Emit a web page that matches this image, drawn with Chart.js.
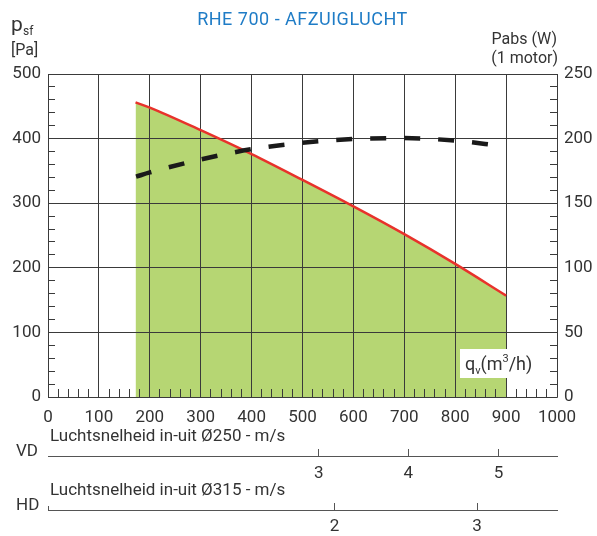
<!DOCTYPE html>
<html>
<head>
<meta charset="utf-8">
<script src="https://cdn.jsdelivr.net/npm/chart.js@4.4.1/dist/chart.umd.min.js"></script>
<style>
  html, body { margin: 0; padding: 0; background: #fff; }
  canvas { display: block; }
</style>
</head>
<body>
<canvas id="chart" width="597" height="536"></canvas>
<script>
// pressure curve (left axis, Pa)
const flowP = [172, 200, 300, 400, 500, 600, 700, 800, 900];
const pressure = [456, 448, 413, 376, 336, 295, 252, 206, 157];
// absorbed power curve (right axis, W)
const flowW = [173, 200, 300, 400, 500, 600, 700, 800, 888];
const power = [170.5, 173.8, 183.8, 191.8, 196.8, 199.7, 200.4, 198.4, 194.5];
// air speed scales under the chart (m/s at the matching m3/h)
const vdTicks = [3, 4, 5];
const vdFlow = [532, 708, 885];
const hdTicks = [2, 3];
const hdFlow = [563, 843];

const FONT = 'Roboto, "DejaVu Sans", sans-serif';
const TXT = '#333';
const GRID = '#3a3a3a';

const px = v => Math.floor(v) + 0.5;

// grid, frame and minor ticks go over the green fill but under the lines
const gridPlugin = {
  id: 'gridOver',
  beforeDatasetDraw(chart, args) {
    if (args.index !== 0) return;
    const {ctx, chartArea: {left, right, top, bottom}, scales: {x, y, y1}} = chart;
    ctx.save();
    ctx.strokeStyle = GRID;
    ctx.lineWidth = 1;
    ctx.beginPath();
    x.ticks.forEach(t => {
      const p = px(x.getPixelForValue(t.value));
      ctx.moveTo(p, top); ctx.lineTo(p, bottom);
    });
    y.ticks.forEach(t => {
      const p = px(y.getPixelForValue(t.value));
      ctx.moveTo(left, p); ctx.lineTo(right, p);
    });
    ctx.rect(px(left), px(top), Math.floor(right) - Math.floor(left), Math.floor(bottom) - Math.floor(top));
    // minor ticks
    for (let v = 20; v < 1000; v += 20) {
      if (v % 100 === 0) continue;
      const p = px(x.getPixelForValue(v));
      ctx.moveTo(p, bottom); ctx.lineTo(p, bottom - 8);
    }
    for (let v = 20; v < 500; v += 20) {
      if (v % 100 === 0) continue;
      const p = px(y.getPixelForValue(v));
      ctx.moveTo(left, p); ctx.lineTo(left + 7, p);
    }
    for (let v = 10; v < 250; v += 10) {
      if (v % 50 === 0) continue;
      const p = px(y1.getPixelForValue(v));
      ctx.moveTo(right, p); ctx.lineTo(right - 7, p);
    }
    ctx.stroke();
    ctx.restore();
  }
};

const textPlugin = {
  id: 'texts',
  afterDraw(chart) {
    const {ctx, chartArea: {left, right, bottom}, scales: {x}} = chart;
    ctx.save();
    // title
    ctx.fillStyle = '#1f7cc6';
    ctx.font = '18px ' + FONT;
    ctx.letterSpacing = '0.5px';
    ctx.textAlign = 'center';
    ctx.textBaseline = 'middle';
    ctx.fillText('RHE 700 - AFZUIGLUCHT', (left + right) / 2, 20);
    ctx.letterSpacing = '0px';

    // axis names
    ctx.fillStyle = TXT;
    ctx.textAlign = 'left';
    ctx.textBaseline = 'alphabetic';
    ctx.font = '21px ' + FONT;
    ctx.fillText('p', 11, 31);
    ctx.font = '12px ' + FONT;
    ctx.fillText('sf', 23, 35);
    ctx.font = '16px ' + FONT;
    ctx.textBaseline = 'middle';
    ctx.fillText('[Pa]', 11, 51);
    ctx.textAlign = 'right';
    ctx.fillText('Pabs (W)', 557, 40);
    ctx.fillText('(1 motor)', 558, 59);

    // qv label on white box
    ctx.fillStyle = '#fff';
    ctx.fillRect(460, 349, 81, 29);
    ctx.fillStyle = TXT;
    ctx.textAlign = 'left';
    ctx.textBaseline = 'alphabetic';
    let tx = 465;
    const base = 370;
    ctx.font = '18px ' + FONT;
    ctx.fillText('q', tx, base); tx += ctx.measureText('q').width;
    ctx.font = '11px ' + FONT;
    ctx.fillText('v', tx, base + 4); tx += ctx.measureText('v').width;
    ctx.font = '18px ' + FONT;
    ctx.fillText('(m', tx, base); tx += ctx.measureText('(m').width;
    ctx.font = '11px ' + FONT;
    ctx.fillText('3', tx, base - 8); tx += ctx.measureText('3').width;
    ctx.font = '18px ' + FONT;
    ctx.fillText('/h)', tx, base);

    // air speed scales
    const speedAxis = (title, name, yTitle, yName, yLine, ticks, flows, yLab, endTick) => {
      ctx.fillStyle = TXT;
      ctx.font = '17px ' + FONT;
      ctx.textBaseline = 'middle';
      ctx.textAlign = 'left';
      ctx.fillText(title, 50, yTitle);
      ctx.fillText(name, 16, yName);
      ctx.strokeStyle = '#555';
      ctx.lineWidth = 1;
      ctx.beginPath();
      ctx.moveTo(left, yLine + 0.5); ctx.lineTo(right + 1, yLine + 0.5);
      if (endTick) { ctx.moveTo(px(left), yLine - 4); ctx.lineTo(px(left), yLine + 0.5); }
      flows.forEach(f => {
        const p = px(x.getPixelForValue(f));
        ctx.moveTo(p, yLine - 7); ctx.lineTo(p, yLine + 0.5);
      });
      ctx.stroke();
      ctx.textAlign = 'center';
      ticks.forEach((t, i) => ctx.fillText(String(t), x.getPixelForValue(flows[i]), yLab));
    };
    speedAxis('Luchtsnelheid in-uit Ø250 - m/s', 'VD', 437, 452, 456, vdTicks, vdFlow, 474, false);
    speedAxis('Luchtsnelheid in-uit Ø315 - m/s', 'HD', 491, 506, 510, hdTicks, hdFlow, 527, true);
    ctx.restore();
  }
};

const tickFont = { family: FONT, size: 17 };
const plain = v => String(v);

const ctx = document.getElementById('chart').getContext('2d');
new Chart(ctx, {
  type: 'line',
  data: {
    datasets: [
      {
        label: 'psf',
        data: flowP.map((f, i) => ({x: f, y: pressure[i]})),
        yAxisID: 'y',
        borderColor: '#e8322b',
        borderWidth: 2.5,
        backgroundColor: '#b6d673',
        fill: 'start',
        pointRadius: 0,
        cubicInterpolationMode: 'monotone',
        order: 2
      },
      {
        label: 'Pabs',
        data: flowW.map((f, i) => ({x: f, y: power[i]})),
        yAxisID: 'y1',
        borderColor: '#1a1a1a',
        borderWidth: 4.5,
        borderDash: [16, 18],
        fill: false,
        pointRadius: 0,
        cubicInterpolationMode: 'monotone',
        order: 1
      }
    ]
  },
  options: {
    responsive: false,
    animation: false,
    layout: { padding: { top: 74, left: 0, right: 0, bottom: 0 } },
    plugins: { legend: { display: false }, tooltip: { enabled: false }, title: { display: false } },
    scales: {
      x: {
        type: 'linear', min: 0, max: 1000,
        grid: { display: false, drawTicks: false }, border: { display: false },
        ticks: { stepSize: 100, color: TXT, font: tickFont, padding: 11, maxRotation: 0, callback: plain },
        afterFit: s => { s.height = 139; }
      },
      y: {
        position: 'left', min: 0, max: 500,
        grid: { display: false, drawTicks: false }, border: { display: false },
        ticks: { stepSize: 100, color: TXT, font: tickFont, padding: 7, callback: plain },
        afterFit: s => { s.width = 48; }
      },
      y1: {
        position: 'right', min: 0, max: 250,
        grid: { display: false, drawTicks: false }, border: { display: false },
        ticks: { stepSize: 50, color: TXT, font: tickFont, padding: 7, callback: plain },
        afterFit: s => { s.width = 40; }
      }
    }
  },
  plugins: [gridPlugin, textPlugin]
});
</script>
</body>
</html>
